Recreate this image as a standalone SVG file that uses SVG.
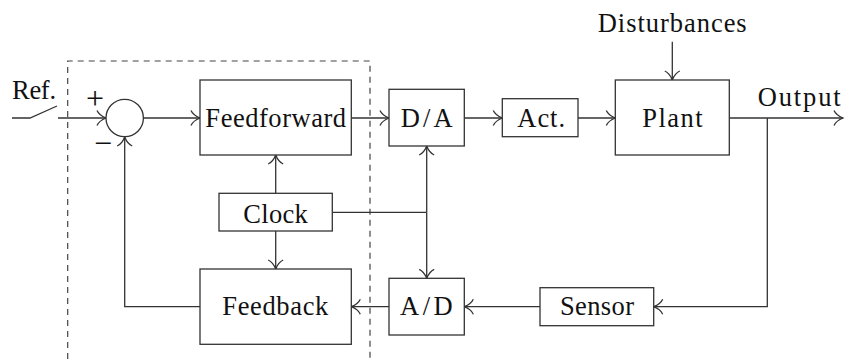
<svg xmlns="http://www.w3.org/2000/svg" width="845" height="360" viewBox="0 0 845 360">
  <style>
    .box { fill: #fff; stroke: #333; stroke-width: 1.3; }
    .wire { fill: none; stroke: #333; stroke-width: 1.3; }
    .dash { fill: none; stroke: #444; stroke-width: 1.2; stroke-dasharray: 6 5; }
    text { font-family: "Liberation Serif", "Times New Roman", serif; font-size: 26.5px; fill: #111; }
    .mid { text-anchor: middle; }
    .sign { font-size: 32px; }
  </style>
  <defs>
    <marker id="arr" viewBox="-10 -10 20 20" refX="0" refY="0" markerWidth="20" markerHeight="20" markerUnits="userSpaceOnUse" orient="auto">
      <path d="M-9,-7.5 C-7,-3 -2,-0.8 0,0 C-2,0.8 -7,3 -9,7.5" fill="none" stroke="#333" stroke-width="1.3"/>
    </marker>
  </defs>

  <rect width="845" height="360" fill="#fff"/>

  <!-- controller boundary (dashed) -->
  <path class="dash" d="M67.7,370 V61 H370 V370"/>

  <!-- connectors -->
  <g id="connectors">
    <!-- reference switch -->
    <path class="wire" d="M12,118 H30 L57,106"/>
    <path class="wire" d="M58,118 H106" marker-end="url(#arr)"/>
    <path class="wire" d="M143.4,118 H200" marker-end="url(#arr)"/>
    <path class="wire" d="M351.3,118 H389" marker-end="url(#arr)"/>
    <path class="wire" d="M464.3,118 H502.3" marker-end="url(#arr)"/>
    <path class="wire" d="M578,118 H615.3" marker-end="url(#arr)"/>
    <path class="wire" d="M729.3,118 H843" marker-end="url(#arr)"/>
    <path class="wire" d="M672.3,41.7 V80" marker-end="url(#arr)"/>
    <!-- measurement loop -->
    <path class="wire" d="M767.3,118 V306.7 H653.7" marker-end="url(#arr)"/>
    <path class="wire" d="M540,306.7 H464.3" marker-end="url(#arr)"/>
    <path class="wire" d="M389,306.7 H351.3" marker-end="url(#arr)"/>
    <path class="wire" d="M200,306.7 H124.7 V137" marker-end="url(#arr)"/>
    <!-- clock distribution -->
    <path class="wire" d="M275.7,193.3 V155" marker-end="url(#arr)"/>
    <path class="wire" d="M275.7,231 V269" marker-end="url(#arr)"/>
    <path class="wire" d="M332.3,212.3 H426.7"/>
    <path class="wire" d="M426.7,212.3 V146" marker-end="url(#arr)"/>
    <path class="wire" d="M426.7,212.3 V278.3" marker-end="url(#arr)"/>
  </g>

  <!-- nodes -->
  <g id="sum">
    <circle class="box" cx="124.7" cy="118" r="18.7"/>
    <text x="95" y="108.5" class="mid sign">+</text>
    <text x="103" y="154" class="mid sign">−</text>
  </g>
  <g id="ref">
    <text x="34" y="99" class="mid" textLength="44">Ref.</text>
  </g>
  <g id="feedforward">
    <rect class="box" x="200" y="80" width="151.3" height="75"/>
    <text x="275.7" y="126.7" class="mid" textLength="140.7">Feedforward</text>
  </g>
  <g id="clock">
    <rect class="box" x="219" y="193.3" width="113.3" height="37.7"/>
    <text x="275.5" y="222.7" class="mid" textLength="64.3">Clock</text>
  </g>
  <g id="feedback">
    <rect class="box" x="200" y="269" width="151.3" height="75.3"/>
    <text x="275.3" y="315.3" class="mid" textLength="106">Feedback</text>
  </g>
  <g id="da">
    <rect class="box" x="389" y="89.3" width="75.3" height="56.7"/>
    <text x="426.7" y="126.7" class="mid" textLength="52">D/A</text>
  </g>
  <g id="ad">
    <rect class="box" x="389" y="278.3" width="75.3" height="56.7"/>
    <text x="426.4" y="315.3" class="mid" textLength="52.7">A/D</text>
  </g>
  <g id="act">
    <rect class="box" x="502.3" y="98.7" width="75.7" height="38"/>
    <text x="541.2" y="126.7" class="mid" textLength="47.7">Act.</text>
  </g>
  <g id="plant">
    <rect class="box" x="615.3" y="80" width="114" height="75"/>
    <text x="672.5" y="126.7" class="mid" textLength="60.3">Plant</text>
  </g>
  <g id="sensor">
    <rect class="box" x="540" y="287.7" width="113.7" height="38"/>
    <text x="597" y="315.3" class="mid" textLength="74">Sensor</text>
  </g>
  <g id="disturbances">
    <text x="672.2" y="31.7" class="mid" textLength="149">Disturbances</text>
  </g>
  <g id="output">
    <text x="799.2" y="106" class="mid" textLength="83">Output</text>
  </g>
</svg>
